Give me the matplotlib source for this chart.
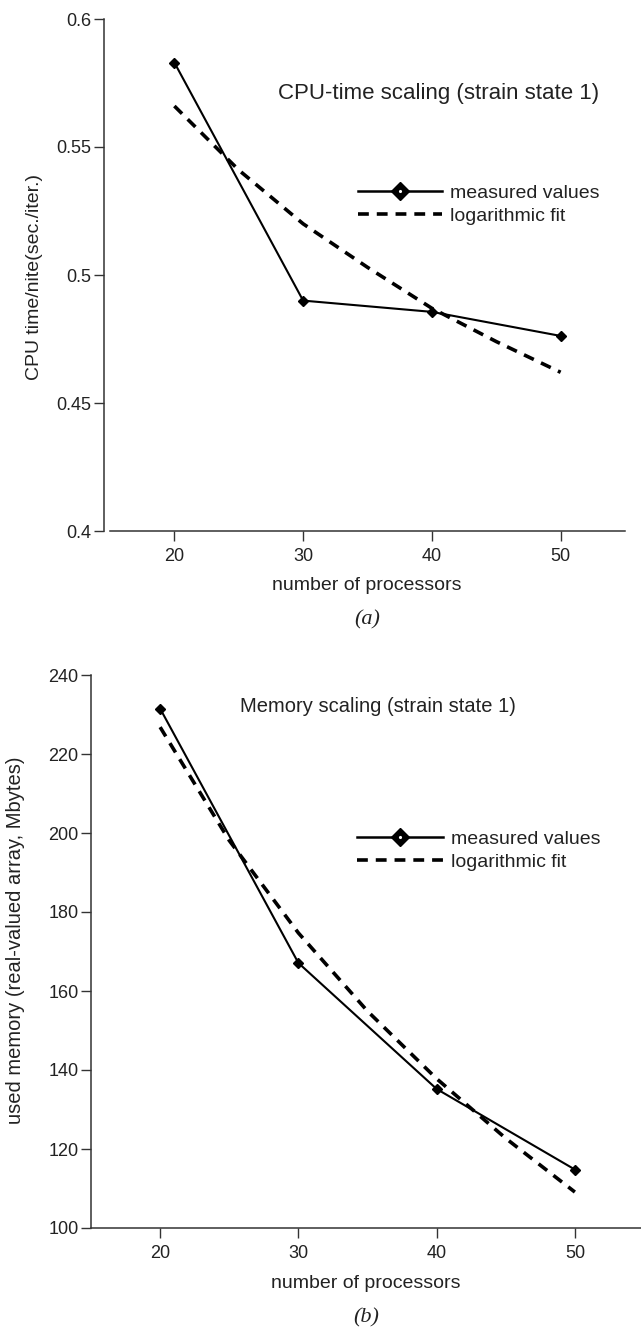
import matplotlib
matplotlib.use("Agg")
import matplotlib.pyplot as plt
from matplotlib.lines import Line2D

plt.rcParams['font.family'] = ['Liberation Sans', 'DejaVu Sans']

# ---- data ----
processors = [20, 30, 40, 50]
cpu_measured = [0.583, 0.490, 0.4856, 0.4762]
fit_x = [20, 25, 30, 35, 40, 45, 50]
cpu_fit = [0.566, 0.541, 0.520, 0.503, 0.487, 0.474, 0.462]
mem_measured = [231.5, 167.1, 135.2, 114.8]
mem_fit = [226.8, 198.1, 174.7, 154.9, 137.8, 122.7, 109.1]

xticks = [20, 30, 40, 50]
cpu_yticks = [0.4, 0.45, 0.5, 0.55, 0.6]
cpu_yticklabels = ['0.4', '0.45', '0.5', '0.55', '0.6']
mem_yticks = [100, 120, 140, 160, 180, 200, 220, 240]

W, H = 641, 1335
TXT = '#222222'

def fx(x):
    return x / W

def fy(y):
    return 1 - y / H

fig = plt.figure(figsize=(W / 100, H / 100), dpi=100)

def style(ax, offset):
    for s in ['top', 'right']:
        ax.spines[s].set_visible(False)
    for s in ['left', 'bottom']:
        ax.spines[s].set_color('#333333')
        ax.spines[s].set_linewidth(1.1)
    if offset:
        ax.spines['left'].set_position(('outward', offset))
    ax.tick_params(direction='out', length=7, width=1.0, color='#333333',
                   labelsize=13, labelcolor=TXT)
    ax.tick_params(axis='y', pad=2)
    ax.tick_params(axis='x', pad=5)

def legend_handles():
    h1 = (Line2D([], [], color='black', lw=1.8, marker='D', ms=9,
                 mfc='black', mec='black'),
          Line2D([], [], ls='none', marker='.', ms=2.5, color='white'))
    h2 = Line2D([], [], color='black', lw=2.6, ls=(0, (3, 2.2)))
    return [h1, h2]

# ---- panel (a) ----
ax1 = fig.add_axes([fx(110), fy(531), fx(625) - fx(110), fy(19) - fy(531)])
ax1.plot(processors, cpu_measured, color='black', lw=1.5, marker='D', ms=5.5,
         mfc='black', mec='black', clip_on=False)
ax1.plot(fit_x, cpu_fit, color='black', lw=2.6, ls=(0, (3, 2.2)), clip_on=False)
ax1.set_xlim(15, 55)
ax1.set_ylim(0.4, 0.6)
ax1.set_xticks(xticks)
ax1.set_yticks(cpu_yticks)
ax1.set_yticklabels(cpu_yticklabels)
style(ax1, 4.3)

fig.text(fx(278), fy(93), 'CPU-time scaling (strain state 1)', fontsize=16,
         color=TXT, ha='left', va='center')
leg1 = fig.legend(legend_handles(), ['measured values', 'logarithmic fit'],
                  loc='upper left', bbox_to_anchor=(fx(358), fy(184)),
                  frameon=False, fontsize=14, handlelength=4.3,
                  handletextpad=0.45, labelspacing=0.3, borderpad=0,
                  borderaxespad=0, labelcolor=TXT)

fig.text(fx(35), fy(380), 'CPU time/nite(sec./iter.)', rotation=90, fontsize=14,
         color=TXT, ha='center', va='bottom')
fig.text(fx(367), fy(585), 'number of processors', fontsize=14, color=TXT,
         ha='center', va='center')
fig.text(fx(367), fy(620), '(a)', fontsize=16, color=TXT, ha='center',
         va='center', family='Liberation Serif', style='italic')

# ---- panel (b) ----
ax2 = fig.add_axes([fx(91), fy(1228), fx(644) - fx(91), fy(675) - fy(1228)])
ax2.plot(processors, mem_measured, color='black', lw=1.5, marker='D', ms=5.5,
         mfc='black', mec='black', clip_on=False)
ax2.plot(fit_x, mem_fit, color='black', lw=2.6, ls=(0, (3, 2.2)), clip_on=False)
ax2.set_xlim(15, 55)
ax2.set_ylim(100, 240)
ax2.set_xticks(xticks)
ax2.set_yticks(mem_yticks)
style(ax2, 0)

fig.text(fx(240), fy(707), 'Memory scaling (strain state 1)', fontsize=14.5,
         color=TXT, ha='left', va='center')
leg2 = fig.legend(legend_handles(), ['measured values', 'logarithmic fit'],
                  loc='upper left', bbox_to_anchor=(fx(357), fy(830)),
                  frameon=False, fontsize=14, handlelength=4.4,
                  handletextpad=0.45, labelspacing=0.3, borderpad=0,
                  borderaxespad=0, labelcolor=TXT)

fig.text(fx(16), fy(940), 'used memory (real-valued array, Mbytes)', rotation=90,
         fontsize=14.5, color=TXT, ha='center', va='center')
fig.text(fx(366), fy(1283), 'number of processors', fontsize=14, color=TXT,
         ha='center', va='center')
fig.text(fx(366), fy(1318), '(b)', fontsize=16, color=TXT, ha='center',
         va='center', family='Liberation Serif', style='italic')

fig.savefig('out.png', dpi=100)
